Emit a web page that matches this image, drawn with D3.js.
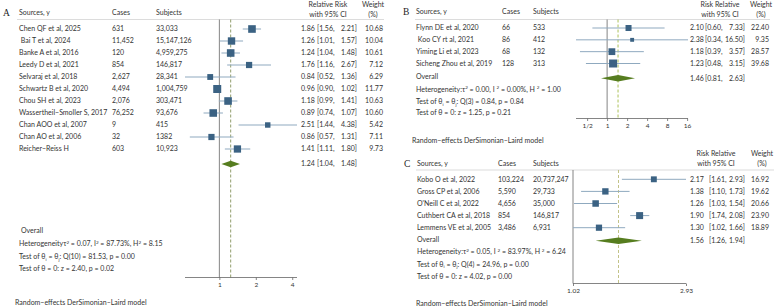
<!doctype html>
<html lang="en">
<head>
<meta charset="UTF-8" />
<title>Forest plots</title>
<script src="https://d3js.org/d3.v7.min.js"></script>
<style>
  body { margin: 0; background: #fff; }
  svg { display: block; font-family: Lato, 'Liberation Sans', Arial, sans-serif; }
  .txt { font-size: 7px; fill: #333; }
  .letter { font-family: 'Liberation Serif', 'DejaVu Serif', serif; font-size: 9.5px; fill: #222; }
  .axis path, .axis line { stroke: #666; stroke-width: 0.8; }
  .axis text { font-family: Lato, 'Liberation Sans', Arial, sans-serif; font-size: 6.5px; fill: #333; }
</style>
</head>
<body>
<svg id="chart" width="784" height="306"></svg>
<script>
// Panel A
const studiesA = ['Chen QF et al, 2025', '\u00a0Bai T et al, 2024', 'Banke A et al, 2016', 'Leedy D et al, 2021',
  'Selvaraj et al, 2018', 'Schwartz B et al, 2020', 'Chou SH et al, 2023', 'Wassertheil\u2212Smoller S, 2017',
  'Chan AOO et al, 2007', 'Chan AO et al, 2006', 'Reicher\u2212Reiss H']
const casesA = ['631', '11,452', '120', '854', '2,627', '4,494', '2,076', '76,252', '9', '32', '603']
const subjectsA = ['33,033', '15,147,126', '4,959,275', '146,817', '28,341', '1,004,759', '303,471', '93,676', '415', '1382', '10,923']
const rrA = [1.86, 1.26, 1.24, 1.76, 0.84, 0.96, 1.18, 0.89, 2.51, 0.86, 1.41]
const lowA = [1.56, 1.01, 1.04, 1.16, 0.52, 0.90, 0.99, 0.74, 1.44, 0.57, 1.11]
const highA = [2.21, 1.57, 1.48, 2.67, 1.36, 1.02, 1.41, 1.07, 4.38, 1.31, 1.80]
const weightA = [10.68, 10.04, 10.61, 7.12, 6.29, 11.77, 10.63, 10.60, 5.42, 7.11, 9.73]
const overallA = [1.24, 1.04, 1.48]
const ticksA = [1, 2, 4]
const tickLabelsA = ['1', '2', '4']

// Panel B
const studiesB = ['Flynn DE et al, 2020', '\u00a0Koo CY rt al, 2021', 'Yiming Li et al, 2023', 'Sicheng Zhou et al, 2019']
const casesB = ['66', '86', '68', '128']
const subjectsB = ['533', '412', '132', '313']
const rrB = [2.10, 2.38, 1.18, 1.23]
const lowB = [0.60, 0.34, 0.39, 0.48]
const highB = [7.33, 16.50, 3.57, 3.15]
const weightB = [22.40, 9.35, 28.57, 39.68]
const overallB = [1.46, 0.81, 2.63]
const ticksB = [0.5, 1, 2, 4, 8, 16]
const tickLabelsB = ['1/2', '1', '2', '4', '8', '16']

// Panel C
const studiesC = ['Kobo O et al, 2022', 'Gross CP et al, 2006', "O'Neill C et al, 2022", 'Cuthbert CA et al, 2018', 'Lemmens VE et al, 2005']
const casesC = ['103,224', '5,590', '4,656', '854', '3,486']
const subjectsC = ['20,737,247', '29,733', '35,000', '146,817', '6,931']
const rrC = [2.17, 1.38, 1.26, 1.90, 1.30]
const lowC = [1.61, 1.10, 1.03, 1.74, 1.02]
const highC = [2.93, 1.73, 1.54, 2.08, 1.66]
const weightC = [16.92, 19.62, 20.66, 23.90, 18.89]
const overallC = [1.56, 1.26, 1.94]
const ticksC = [1.02, 2.93]
const tickLabelsC = ['1.02', '2.93']

const svg = d3.select('#chart')
const f2 = d3.format('.2f')

// text made of segments; 'sup' / 'sub' shift the baseline a little
function richText(g, x, y, segs) {
  const t = g.append('text').attr('class', 'txt').attr('x', x).attr('y', y)
  let shift = 0
  segs.forEach(([s, kind]) => {
    const target = kind === 'sup' ? -2.6 : kind === 'sub' ? 1.6 : 0
    t.append('tspan')
      .attr('dy', target - shift)
      .style('font-size', kind ? '4.6px' : null)
      .text(s)
    shift = target
  })
}

function drawPanel(p) {
  const g = svg.append('g')
  const n = p.studies.length
  const rowY = d3.scaleLinear().domain([0, n - 1]).range(p.rows)
  const x = d3.scaleLog().domain([d3.min(p.low), d3.max(p.high)]).range(p.xRange)
  const size = d3.scaleSqrt().domain([0, d3.max(p.weight)]).range([0, p.maxSq])
  const base = 2.4

  // panel letter and headers
  g.append('text').attr('class', 'letter').attr('x', p.letterX).attr('y', p.headY + 3).text(p.letter)
  g.append('text').attr('class', 'txt').attr('x', p.col.name).attr('y', p.headY + base).text('Sources, y')
  g.append('text').attr('class', 'txt').attr('x', p.col.cases).attr('y', p.headY + base).text('Cases')
  g.append('text').attr('class', 'txt').attr('x', p.col.subj).attr('y', p.headY + base).text('Subjects')
  g.append('text').attr('class', 'txt').attr('x', p.rrHeadX).attr('y', p.rrHeadY + base)
    .attr('text-anchor', 'middle').text(p.rrTitle)
  g.append('text').attr('class', 'txt').attr('x', p.rrHeadX).attr('y', p.rrHeadY + 10 + base)
    .attr('text-anchor', 'middle').text('with 95% CI')
  g.append('text').attr('class', 'txt').attr('x', p.wHeadX).attr('y', p.rrHeadY + base)
    .attr('text-anchor', 'middle').text('Weight')
  g.append('text').attr('class', 'txt').attr('x', p.wHeadX).attr('y', p.rrHeadY + 10 + base)
    .attr('text-anchor', 'middle').text('(%)')
  g.append('line').attr('x1', p.lineX[0]).attr('x2', p.lineX[1])
    .attr('y1', p.lineY).attr('y2', p.lineY).attr('stroke', '#c4c4c4').attr('stroke-width', 0.6)

  // reference lines
  const refX = p.refAtOne ? x(1) : p.xRange[0]
  g.append('line').attr('x1', refX).attr('x2', refX).attr('y1', p.lineY).attr('y2', p.axisY)
    .attr('stroke', '#777').attr('stroke-width', 0.9)
  g.append('line').attr('x1', x(p.overall[0])).attr('x2', x(p.overall[0]))
    .attr('y1', p.lineY).attr('y2', p.axisY)
    .attr('stroke', p.dashColor).attr('stroke-width', 0.9).attr('stroke-dasharray', '3,2')

  // study rows
  p.studies.forEach((s, i) => {
    const y = rowY(i)
    g.append('text').attr('class', 'txt').attr('x', p.col.name).attr('y', y + base).text(s)
    g.append('text').attr('class', 'txt').attr('x', p.col.cases).attr('y', y + base).text(p.cases[i])
    g.append('text').attr('class', 'txt').attr('x', p.col.subj).attr('y', y + base).text(p.subjects[i])
    g.append('text').attr('class', 'txt').attr('x', p.col.rr).attr('y', y + base).text(f2(p.rr[i]))
    g.append('text').attr('class', 'txt').attr('x', p.col.ciLo).attr('y', y + base).text('[' + f2(p.low[i]) + ',')
    g.append('text').attr('class', 'txt').attr('x', p.col.ciHi).attr('y', y + base)
      .attr('text-anchor', 'end').text(f2(p.high[i]) + ']')
    g.append('text').attr('class', 'txt').attr('x', p.col.w).attr('y', y + base)
      .attr('text-anchor', 'end').text(f2(p.weight[i]))

    g.append('line').attr('x1', x(p.low[i])).attr('x2', x(p.high[i]))
      .attr('y1', y).attr('y2', y).attr('stroke', '#8fa9bf').attr('stroke-width', 1)
    const sz = size(p.weight[i])
    g.append('rect').attr('x', x(p.rr[i]) - sz / 2).attr('y', y - sz / 2)
      .attr('width', sz).attr('height', sz).attr('fill', '#3b6283')
  })

  // overall diamond
  const oy = p.diamondY
  const [est, lo, hi] = p.overall
  g.append('path')
    .attr('d', `M${x(lo)},${oy} L${x(est)},${oy - 3.2} L${x(hi)},${oy} L${x(est)},${oy + 3.2} Z`)
    .attr('fill', '#567d1f')
  g.append('text').attr('class', 'txt').attr('x', p.col.rr).attr('y', oy + base).text(f2(est))
  g.append('text').attr('class', 'txt').attr('x', p.col.ciLo).attr('y', oy + base).text('[' + f2(lo) + ',')
  g.append('text').attr('class', 'txt').attr('x', p.col.ciHi).attr('y', oy + base)
    .attr('text-anchor', 'end').text(f2(hi) + ']')

  // summary text
  g.append('text').attr('class', 'txt').attr('x', p.col.name + p.overallDx).attr('y', p.sumY[0] + base).text('Overall')
  richText(g, p.col.name, p.sumY[1] + base, p.het)
  richText(g, p.col.name, p.sumY[2] + base, p.q)
  richText(g, p.col.name, p.sumY[3] + base, p.z)
  g.append('text').attr('class', 'txt').attr('x', p.modelX).attr('y', p.modelY + base)
    .text('Random\u2212effects DerSimonian\u2013Laird model')

  // x axis
  g.append('g').attr('class', 'axis')
    .attr('transform', `translate(0,${p.axisY})`)
    .call(d3.axisBottom(x).tickValues(p.ticks).tickSize(2.5).tickPadding(2)
      .tickFormat((d, i) => p.tickLabels[i]))
    .call(a => a.select('.domain').attr('d', `M${p.xRange[0]},0H${p.xRange[1]}`))
}

drawPanel({
  letter: 'A', letterX: 3, headY: 13,
  studies: studiesA, cases: casesA, subjects: subjectsA, rr: rrA, low: lowA, high: highA, weight: weightA,
  overall: overallA, ticks: ticksA, tickLabels: tickLabelsA,
  col: { name: 19, cases: 112, subj: 156, rr: 301, ciLo: 317, ciHi: 357, w: 383 },
  rrTitle: 'Relative Risk', rrHeadX: 328, wHeadX: 373, rrHeadY: 4.5,
  lineX: [17, 384], lineY: 19.5,
  rows: [29, 149], xRange: [185, 297], maxSq: 8, refAtOne: true, dashColor: '#84925a',
  diamondY: 164, axisY: 277.5, overallDx: 2,
  sumY: [231, 244, 256.5, 268.5], modelX: 15, modelY: 302.5,
  het: [['Heterogeneity\u03c4'], ['2', 'sup'], [' = 0.07, I'], ['2', 'sup'], [' = 87.73%, H'], ['2', 'sup'], [' = 8.15']],
  q: [['Test of \u03b8'], ['i', 'sub'], [' = \u03b8'], ['j', 'sub'], [': Q(10) = 81.53, p = 0.00']],
  z: [['Test of \u03b8 = 0: z = 2.40, p = 0.02']]
})

drawPanel({
  letter: 'B', letterX: 403, headY: 12,
  studies: studiesB, cases: casesB, subjects: subjectsB, rr: rrB, low: lowB, high: highB, weight: weightB,
  overall: overallB, ticks: ticksB, tickLabels: tickLabelsB,
  col: { name: 416, cases: 502, subj: 533, rr: 690, ciLo: 705, ciHi: 745, w: 769 },
  rrTitle: 'Risk Relative', rrHeadX: 720, wHeadX: 761, rrHeadY: 4.5,
  lineX: [415, 770], lineY: 19.5,
  rows: [28, 63.5], xRange: [576, 688], maxSq: 8, refAtOne: true, dashColor: '#a3bb45',
  diamondY: 78.3, axisY: 118.5, overallDx: 0,
  sumY: [77, 89.5, 101.5, 113], modelX: 412, modelY: 140.7,
  het: [['Heterogeneity:\u03c4'], ['2', 'sup'], [' = 0.00, I '], ['2', 'sup'], [' = 0.00%, H '], ['2', 'sup'], [' = 1.00']],
  q: [['Test of \u03b8'], ['i', 'sub'], [' = \u03b8'], ['j', 'sub'], [': Q(3) = 0.84, p = 0.84']],
  z: [['Test of \u03b8 = 0: z = 1.25, p = 0.21']]
})

drawPanel({
  letter: 'C', letterX: 404, headY: 164,
  studies: studiesC, cases: casesC, subjects: subjectsC, rr: rrC, low: lowC, high: highC, weight: weightC,
  overall: overallC, ticks: ticksC, tickLabels: tickLabelsC,
  col: { name: 417, cases: 498, subj: 533, rr: 690, ciLo: 709, ciHi: 745, w: 769 },
  rrTitle: 'Risk Relative', rrHeadX: 716, wHeadX: 762, rrHeadY: 154,
  lineX: [416, 774], lineY: 170,
  rows: [179.3, 227.7], xRange: [573, 686], maxSq: 7, refAtOne: false, dashColor: '#bcbc7c',
  diamondY: 240.7, axisY: 283.5, overallDx: 0,
  sumY: [239.3, 251.7, 264.3, 276.7], modelX: 416, modelY: 304,
  het: [['Heterogeneity:\u03c4'], ['2', 'sup'], [' = 0.05, I '], ['2', 'sup'], [' = 83.97%, H '], ['2', 'sup'], [' = 6.24']],
  q: [['Test of \u03b8'], ['i', 'sub'], [' = \u03b8'], ['j', 'sub'], [': Q(4) = 24.96, p = 0.00']],
  z: [['Test of \u03b8 = 0: z = 4.02, p = 0.00']]
})
</script>
</body>
</html>
